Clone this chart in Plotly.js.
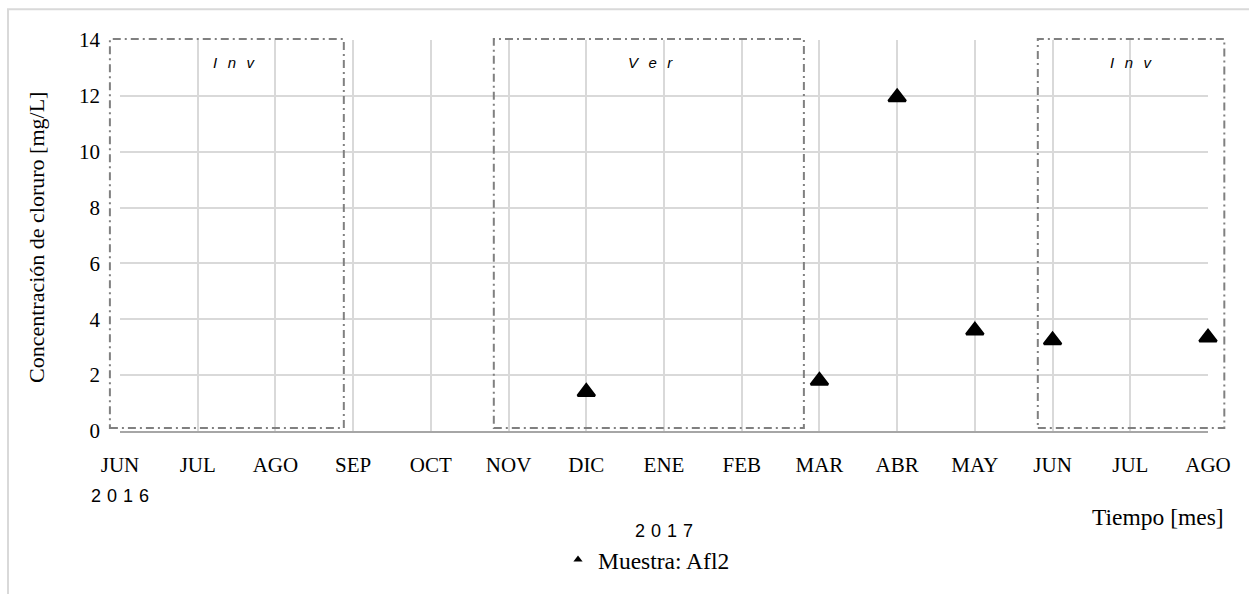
<!DOCTYPE html>
<html>
<head>
<meta charset="utf-8">
<script src="https://cdn.plot.ly/plotly-3.0.1.min.js"></script>
<style>html,body{margin:0;padding:0;background:#fff;}#chart{width:1249px;height:594px;}</style>
</head>
<body>
<div id="chart"></div>
<script>
// ---- data ----
const monthLabels = ['JUN','JUL','AGO','SEP','OCT','NOV','DIC','ENE','FEB','MAR','ABR','MAY','JUN','JUL','AGO'];
const monthIndex = [0,1,2,3,4,5,6,7,8,9,10,11,12,13,14];
const sampleMonthIdx = [6, 9, 10, 11, 12, 14];
const chloride = [1.4, 1.8, 11.95, 3.6, 3.25, 3.35];
const seriesName = 'Muestra: Afl2';
const yearLabels = ['2 0 1 6', '2 0 1 7'];
const yearMonthIdx = [0, 7];
const seasonLabels = ['I n v', 'V e r', 'I n v'];
const seasonStart = [-0.13, 4.81, 11.81];
const seasonEnd = [2.88, 8.80, 14.21];
const seasonLabelIdx = [1.47, 6.83, 13.02];

// ---- layout helpers ----
const W = 1249, H = 594;
const M = {l: 120, r: 41, t: 40, b: 159};
const xMax = 14;
const pw = W - M.l - M.r, ph = H - M.t - M.b;
const px2x = p => (p - M.l) / pw;
const py2y = p => (H - M.b - p) / ph;
const idx2x = i => i / xMax;
const serif = 'Liberation Serif';
const sans = 'Liberation Sans';

const shapes = [];
// outer light frame
shapes.push({type: 'rect', xref: 'paper', yref: 'paper',
  x0: px2x(8), x1: px2x(1300), y0: py2y(9), y1: py2y(700),
  line: {color: '#d9d9d9', width: 2}, fillcolor: 'rgba(0,0,0,0)', layer: 'below'});
// season boxes
for (let i = 0; i < seasonLabels.length; i++) {
  shapes.push({type: 'rect', xref: 'paper', yref: 'paper',
    x0: idx2x(seasonStart[i]), x1: idx2x(seasonEnd[i]),
    y0: py2y(432), y1: py2y(39),
    line: {color: '#808080', width: 2, dash: '8px,4px,2px,4px'},
    fillcolor: 'rgba(0,0,0,0)', layer: 'above'});
}

const annotations = [];
for (let i = 0; i < seasonLabels.length; i++) {
  annotations.push({xref: 'paper', yref: 'paper', showarrow: false,
    x: idx2x(seasonLabelIdx[i]), y: py2y(63),
    xanchor: 'center', yanchor: 'middle',
    text: seasonLabels[i].split(' ').join('\u2002\u2009'),
    font: {family: sans, size: 15, color: '#000', style: 'italic'}});
}
annotations.push({xref: 'paper', yref: 'paper', showarrow: false,
  x: idx2x(yearMonthIdx[0]), y: py2y(501), xanchor: 'center', yanchor: 'middle',
  text: yearLabels[0].split(' ').join('\u2004'), font: {family: sans, size: 18, color: '#000'}});
annotations.push({xref: 'paper', yref: 'paper', showarrow: false,
  x: idx2x(yearMonthIdx[1]), y: py2y(536), xanchor: 'center', yanchor: 'middle',
  text: yearLabels[1].split(' ').join('\u2004'), font: {family: sans, size: 18, color: '#000'}});
annotations.push({xref: 'paper', yref: 'paper', showarrow: false,
  x: px2x(1226), y: py2y(522), xanchor: 'right', yanchor: 'middle',
  text: 'Tiempo [mes]', font: {family: serif, size: 23.5, color: '#000'}});
annotations.push({xref: 'paper', yref: 'paper', showarrow: false,
  x: px2x(37), y: py2y(240), xanchor: 'center', yanchor: 'middle', textangle: -90,
  text: 'Concentración de cloruro [mg/L]', font: {family: serif, size: 22, color: '#000'}});

const traces = [
  {x: sampleMonthIdx, y: chloride, type: 'scatter', mode: 'markers', name: seriesName,
   showlegend: false, cliponaxis: false,
   marker: {symbol: 'triangle-up', size: 15, color: '#000', line: {color: '#000', width: 2.5}}},
  {x: [null], y: [null], type: 'scatter', mode: 'markers', name: seriesName,
   showlegend: true,
   marker: {symbol: 'triangle-up', size: 8, color: '#000'}}
];

const layout = {
  width: W, height: H, margin: M,
  paper_bgcolor: '#fff', plot_bgcolor: '#fff',
  font: {family: serif, size: 21, color: '#000'},
  showlegend: true,
  legend: {orientation: 'h', x: px2x(558), xanchor: 'left', y: py2y(565), yanchor: 'middle',
    font: {family: serif, size: 23.5, color: '#000'}, itemwidth: 30, bgcolor: 'rgba(0,0,0,0)'},
  xaxis: {range: [0, xMax], tickmode: 'array', tickvals: monthIndex, ticktext: monthLabels,
    showgrid: true, gridcolor: '#d9d9d9', gridwidth: 2, zeroline: false,
    showline: true, linecolor: '#a6a6a6', linewidth: 2, ticks: '', ticklabelstandoff: 14,
    tickfont: {family: serif, size: 21, color: '#000'}, fixedrange: true},
  yaxis: {range: [0, 14], dtick: 2, tick0: 0,
    showgrid: true, gridcolor: '#d9d9d9', gridwidth: 2, zeroline: false,
    showline: false, ticks: '', ticklabelstandoff: 19,
    tickfont: {family: serif, size: 21, color: '#000'}, fixedrange: true},
  shapes: shapes, annotations: annotations
};

Plotly.newPlot('chart', traces, layout, {displayModeBar: false, staticPlot: true});
</script>
</body>
</html>
